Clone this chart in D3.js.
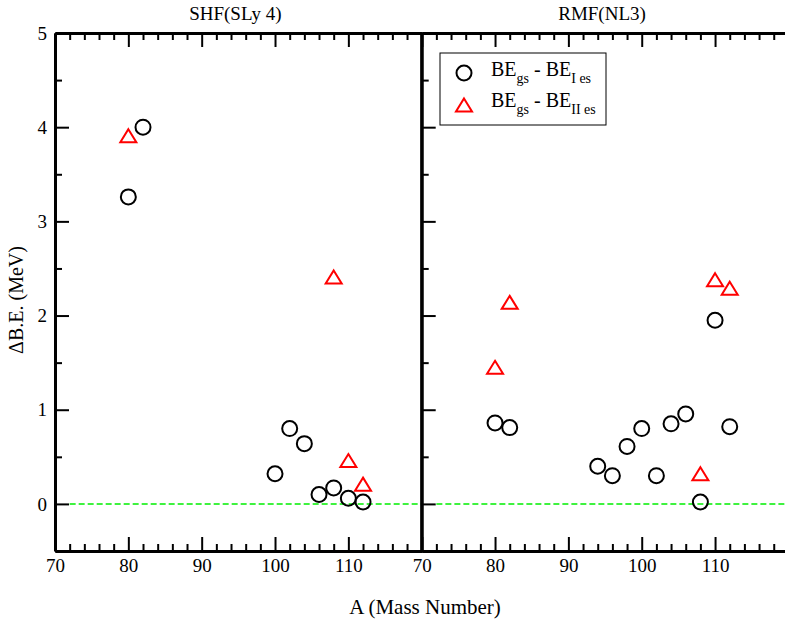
<!DOCTYPE html>
<html>
<head>
<meta charset="utf-8">
<script src="https://cdn.jsdelivr.net/npm/d3@7"></script>
<style>
  body { margin: 0; background: #fff; }
  svg { display: block; }
</style>
</head>
<body>
<svg id="chart" width="785" height="626"></svg>
<script>
// Data
const panelTitles = ['SHF(SLy 4)', 'RMF(NL3)'];
const xMajorTicks = [70, 80, 90, 100, 110, 120];
const xTickLabels = ['70', '80', '90', '100', '110', ''];
const yMajorTicks = [0, 1, 2, 3, 4, 5];

// SHF(SLy 4)
const shfA1 = [80, 82, 100, 102, 104, 106, 108, 110, 112];
const shfE1 = [3.26, 4.0, 0.32, 0.80, 0.64, 0.10, 0.17, 0.06, 0.02];
const shfA2 = [80, 108, 110, 112];
const shfE2 = [3.91, 2.41, 0.46, 0.21];

// RMF(NL3)
const rmfA1 = [80, 82, 94, 96, 98, 100, 102, 104, 106, 108, 110, 112];
const rmfE1 = [0.86, 0.81, 0.40, 0.30, 0.61, 0.80, 0.30, 0.85, 0.955, 0.02, 1.95, 0.82];
const rmfA2 = [80, 82, 108, 110, 112];
const rmfE2 = [1.45, 2.14, 0.32, 2.38, 2.29];

const FONT = '"Liberation Serif", "Times New Roman", Times, serif';
const svg = d3.select('#chart').attr('font-family', FONT);

// Layout
const plotLeft = 55, plotTop = 33, plotBottom = 551;
const panelW = 366.7;
const y = d3.scaleLinear().domain([-0.5, 5]).range([plotBottom, plotTop]);

const panels = [
  { title: panelTitles[0], x0: plotLeft, s1: [shfA1, shfE1], s2: [shfA2, shfE2], yLabels: true },
  { title: panelTitles[1], x0: plotLeft + panelW, s1: [rmfA1, rmfE1], s2: [rmfA2, rmfE2], yLabels: false }
];

const xMinor = d3.range(70, 121, 2).filter(v => v % 10 !== 0);
const yMinor = d3.range(-0.5, 5.01, 0.5).filter(v => Math.abs(v % 1) > 0.1);

// Triangle centred on its bounding box
const triPath = (hw, h) => `M0,${-h / 2}L${hw},${h / 2}L${-hw},${h / 2}Z`;

panels.forEach(p => {
  const x = d3.scaleLinear().domain([70, 120]).range([p.x0, p.x0 + panelW]);
  const g = svg.append('g');

  // zero line
  g.append('line')
    .attr('x1', x(72)).attr('x2', x(120))
    .attr('y1', y(0)).attr('y2', y(0))
    .attr('stroke', '#00ee00')
    .attr('stroke-width', 1.5)
    .attr('stroke-dasharray', '6,3');

  // bottom axis (ticks inward)
  const bx = g.append('g').attr('transform', `translate(0,${plotBottom})`)
    .call(d3.axisBottom(x).tickValues(xMajorTicks).tickSize(-14).tickSizeOuter(0)
      .tickFormat((d, i) => xTickLabels[i]));
  bx.selectAll('text').attr('dy', '0').attr('y', 21);
  g.append('g').attr('transform', `translate(0,${plotBottom})`)
    .call(d3.axisBottom(x).tickValues(xMinor).tickSize(-7).tickFormat(''))
    .call(a => a.select('.domain').remove());

  // top axis (ticks inward)
  g.append('g').attr('transform', `translate(0,${plotTop})`)
    .call(d3.axisTop(x).tickValues(xMajorTicks).tickSize(-14).tickSizeOuter(0).tickFormat(''));
  g.append('g').attr('transform', `translate(0,${plotTop})`)
    .call(d3.axisTop(x).tickValues(xMinor).tickSize(-7).tickFormat(''))
    .call(a => a.select('.domain').remove());

  // left axis
  const ly = g.append('g').attr('transform', `translate(${p.x0},0)`)
    .call(d3.axisLeft(y).tickValues(yMajorTicks).tickSize(-14).tickSizeOuter(0)
      .tickFormat(p.yLabels ? d3.format('d') : ''));
  ly.selectAll('text').attr('x', -8);
  g.append('g').attr('transform', `translate(${p.x0},0)`)
    .call(d3.axisLeft(y).tickValues(yMinor).tickSize(-7).tickFormat(''))
    .call(a => a.select('.domain').remove());

  // right border
  g.append('line')
    .attr('x1', x(120)).attr('x2', x(120))
    .attr('y1', plotTop).attr('y2', plotBottom)
    .attr('stroke', '#000').attr('stroke-width', 3);

  g.selectAll('.domain').attr('stroke-width', 3);
  g.selectAll('.tick line').attr('stroke-width', 2);
  g.selectAll('g').attr('font-family', FONT).attr('font-size', 19);

  // title
  g.append('text')
    .attr('x', p.x0 + panelW / 2 - 3).attr('y', 20)
    .attr('text-anchor', 'middle').attr('font-size', 19)
    .text(p.title);

  // circles
  g.append('g').selectAll('circle')
    .data(d3.zip(p.s1[0], p.s1[1]))
    .join('circle')
      .attr('cx', d => x(d[0])).attr('cy', d => y(d[1]))
      .attr('r', 7.5)
      .attr('fill', 'none').attr('stroke', '#000').attr('stroke-width', 2);

  // triangles
  g.append('g').selectAll('path')
    .data(d3.zip(p.s2[0], p.s2[1]))
    .join('path')
      .attr('transform', d => `translate(${x(d[0])},${y(d[1])})`)
      .attr('d', triPath(8, 13))
      .attr('fill', 'none').attr('stroke', '#ff0000').attr('stroke-width', 2);
});

// axis labels
svg.append('text')
  .attr('transform', 'translate(23,300) rotate(-90)')
  .attr('text-anchor', 'middle').attr('font-size', 20)
  .text('ΔB.E. (MeV)');

svg.append('text')
  .attr('x', 425).attr('y', 614)
  .attr('text-anchor', 'middle').attr('font-size', 21)
  .text('A (Mass Number)');

// legend
const lg = svg.append('g');
lg.append('rect')
  .attr('x', 440).attr('y', 53).attr('width', 166).attr('height', 72)
  .attr('fill', '#fff').attr('stroke', '#000').attr('stroke-width', 1);
lg.append('circle')
  .attr('cx', 464).attr('cy', 73).attr('r', 7.5)
  .attr('fill', 'none').attr('stroke', '#000').attr('stroke-width', 2);
lg.append('path')
  .attr('transform', 'translate(464,105)')
  .attr('d', triPath(8, 13))
  .attr('fill', 'none').attr('stroke', '#ff0000').attr('stroke-width', 2);

const legendRows = [
  { y: 76, sub: 'I es' },
  { y: 107, sub: 'II es' }
];
legendRows.forEach(r => {
  const t = lg.append('text').attr('x', 491).attr('y', r.y).attr('font-size', 20);
  t.append('tspan').text('BE');
  t.append('tspan').attr('font-size', 14).attr('dy', 7).text('gs');
  t.append('tspan').attr('dy', -7).text(' - BE');
  t.append('tspan').attr('font-size', 14).attr('dy', 7).text(r.sub);
});
</script>
</body>
</html>
